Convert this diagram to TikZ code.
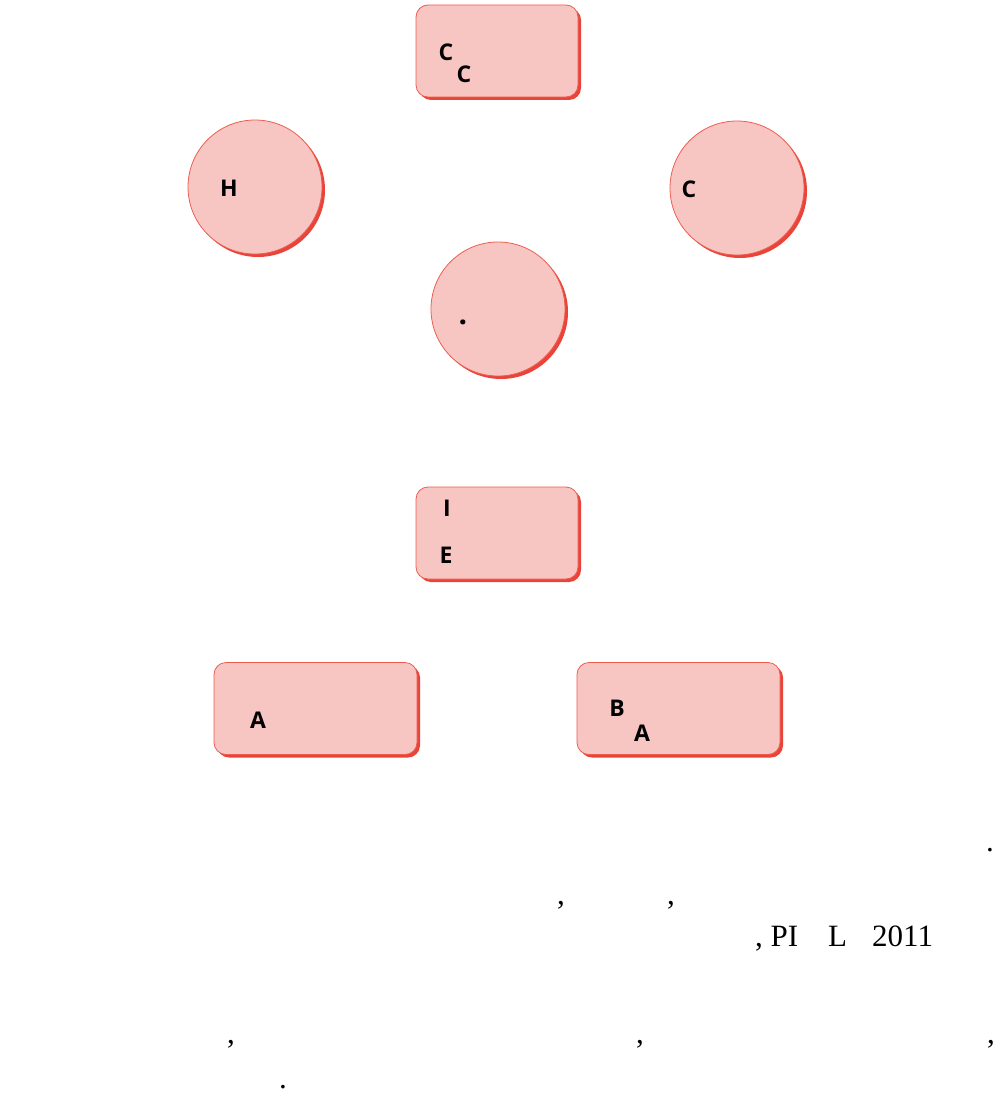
\documentclass[tikz,border=0pt]{standalone}
\usepackage{fontspec}
\setmainfont{Liberation Serif}
\newfontfamily\labelfont{Open Sans}
\usetikzlibrary{shadows}

\definecolor{pinkfill}{RGB}{248,198,194}
\definecolor{edgered}{RGB}{238,92,80}
\definecolor{shadowred}{RGB}{232,68,58}

\tikzset{
  card/.style={draw=edgered, line width=0.8pt, fill=pinkfill,
    rounded corners=12pt, minimum width=162pt, minimum height=92pt,
    drop shadow={shadow xshift=3pt, shadow yshift=-3pt, fill=shadowred, opacity=1}},
  widecard/.style={card, minimum width=203pt},
  disc/.style={circle, draw=edgered, line width=0.8pt, fill=pinkfill,
    minimum size=134pt, inner sep=0pt,
    drop shadow={shadow xshift=3pt, shadow yshift=-3pt, fill=shadowred, opacity=1}},
  lbl/.style={font=\labelfont\bfseries\fontsize{23}{23}\selectfont, inner sep=0pt},
  para/.style={font=\fontsize{31}{31}\selectfont, inner sep=0pt, anchor=base west}
}

\begin{document}
\begin{tikzpicture}[x=1pt, y=-1pt]
  \useasboundingbox (0,0) rectangle (1000,1097);

  % boxes and circles
  \node[card] (top) at (497,51) {};
  \node[disc] (left) at (255,187) {};
  \node[disc] (right) at (737,188) {};
  \node[disc] (mid) at (498,309) {};
  \node[card] (centre) at (497,533) {};
  \node[widecard] (bl) at (315.5,708.5) {};
  \node[widecard] (br) at (678.5,708.5) {};

  % labels inside the shapes
  \node[lbl] (topa) at (446,52) {C};
  \node[lbl] (topb) at (464,74) {C};
  \node[lbl] (lefta) at (229,188) {H};
  \node[lbl] (righta) at (689,189) {C};
  \node[lbl, font=\labelfont\bfseries\fontsize{30}{30}\selectfont] (mida) at (463,322) {.};
  \node[lbl] (centa) at (447,508) {I};
  \node[lbl] (centb) at (446,555) {E};
  \node[lbl] (bla) at (258,720) {A};
  \node[lbl] (bra) at (617,708) {B};
  \node[lbl] (brb) at (642,733) {A};

  % caption paragraph
  \node[para] (p1) at (986,851) {.};
  \node[para] (p2) at (557,904) {,};
  \node[para] (p3) at (667,904) {,};
  \node[para] (p4) at (755,946) {, PI};
  \node[para] (p5) at (828,946) {L};
  \node[para] (p6) at (872,946) {2011};
  \node[para] (p7) at (227,1043) {,};
  \node[para] (p8) at (636,1043) {,};
  \node[para] (p9) at (987,1043) {,};
  \node[para] (p10) at (279,1088) {.};
\end{tikzpicture}
\end{document}
